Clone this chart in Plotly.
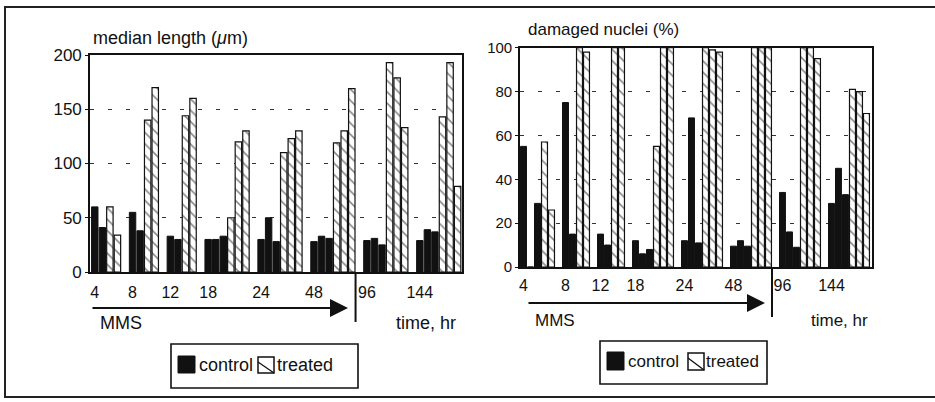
import plotly.graph_objects as go

W, H = 935, 402

times = ["4", "8", "12", "18", "24", "48", "96", "144"]
n_mms = 6  # first six time points are under MMS exposure

# median length (um): per time point, control bars then treated bars
len_control = [[60, 41], [55, 38], [33, 30], [30, 30, 33], [30, 50, 28], [28, 33, 31], [29, 31, 25], [29, 39, 37]]
len_treated = [[60, 34], [140, 170], [144, 160], [50, 120, 130], [110, 123, 130], [119, 130, 169], [193, 179, 133], [143, 193, 79]]

# damaged nuclei (%)
dmg_control = [[55, 0, 29], [75, 15], [15, 10], [12, 6, 8], [12, 68, 11], [9.5, 12, 9.5], [34, 16, 9], [29, 45, 33]]
dmg_treated = [[57, 26], [100, 98], [100, 100], [55, 100, 100], [100, 99, 98], [100, 100, 100], [100, 100, 95], [81, 80, 70]]


def slots(control, treated):
    cx, cy, tx, ty, starts = [], [], [], [], []
    pos = 0
    for c, t in zip(control, treated):
        starts.append(pos)
        for v in c:
            cx.append(pos); cy.append(v); pos += 1
        for v in t:
            tx.append(pos); ty.append(v); pos += 1
        pos += 1
    return cx, cy, tx, ty, starts


def px(x):
    return x / W


def py(y):
    return 1 - y / H


FONT = "Liberation Sans, Arial, sans-serif"
INK = "#111111"

fig = go.Figure()

panels = [
    dict(ctrl=len_control, trt=len_treated, xa="x", ya="y", dom_x=(90, 462), dom_y=(272, 55),
         xr_pad=(-0.63, 0.08), yr=[0, 200], dtick=50, ytf=17, tail=-0.5, base_y=272, line_end=322,
         arrow_y=308, title="median length (<i>μ</i>m)", title_xy=(91, 38), tsize=18,
         mms_xy=(98, 323), time_xy=(458, 323), lsize=18, ticklen=5,
         legend=dict(box=(171, 344, 358, 388), sq=(178, 356, 195, 373), ctext=197, ic=(258, 357, 274, 373), ttext=275, cy=365)),
    dict(ctrl=dmg_control, trt=dmg_treated, xa="x2", ya="y2", dom_x=(520, 872), dom_y=(267, 47.7),
         xr_pad=(-0.5, 0.29), yr=[0, 100], dtick=20, ytf=15, tail=0.5, base_y=267, line_end=317,
         arrow_y=303, title="damaged nuclei (%)", title_xy=(526, 30), tsize=17,
         mms_xy=(533, 320), time_xy=(870, 320), lsize=17, ticklen=3,
         legend=dict(box=(600, 341, 767, 384), sq=(607, 352, 624, 370), ctext=626, ic=(688, 353, 704, 370), ttext=704, cy=361)),
]

shapes = []
annotations = []

for i, p in enumerate(panels):
    cx, cy, tx, ty, starts = slots(p["ctrl"], p["trt"])
    fig.add_trace(go.Bar(x=cx, y=cy, name="control", xaxis=p["xa"], yaxis=p["ya"],
                         marker=dict(color=INK, line=dict(color=INK, width=1)), showlegend=False))
    fig.add_trace(go.Bar(x=tx, y=ty, name="treated", xaxis=p["xa"], yaxis=p["ya"],
                         marker=dict(color="white", line=dict(color=INK, width=1.2),
                                     pattern=dict(shape="\\", fgcolor=INK, bgcolor="white", size=8, solidity=0.2)),
                         showlegend=False))
    last = starts[-1] + len(p["ctrl"][-1]) + len(p["trt"][-1]) - 1
    xr = [p["xr_pad"][0], last + 0.5 + p["xr_pad"][1]]
    suffix = "" if i == 0 else "2"
    fig.update_layout(**{
        "xaxis" + suffix: dict(domain=[px(p["dom_x"][0]), px(p["dom_x"][1])], range=xr, automargin=False,
                               anchor=p["ya"], tickvals=starts, ticktext=times, showgrid=False,
                               zeroline=False, showline=True, mirror=True, linecolor=INK, linewidth=1.6,
                               ticks="outside", ticklen=p["ticklen"], tickcolor="rgba(0,0,0,0)",
                               tickfont=dict(size=16, color=INK, family=FONT)),
        "yaxis" + suffix: dict(domain=[py(p["dom_y"][0]), py(p["dom_y"][1])], range=p["yr"], dtick=p["dtick"],
                               anchor=p["xa"], automargin=False, showgrid=True, gridcolor="#333333", gridwidth=1.2,
                               griddash="4px,14px", zeroline=False, showline=True, mirror=True,
                               linecolor=INK, linewidth=1.6, ticks="outside", ticklen=3, tickcolor=INK,
                               tickfont=dict(size=p["ytf"], color=INK, family=FONT)),
    })
    divider = starts[n_mms] - 1.5
    # divider line below the axis
    shapes.append(dict(type="line", xref=p["xa"], yref="paper", x0=divider, x1=divider,
                       y0=py(p["base_y"]), y1=py(p["line_end"]), line=dict(color=INK, width=2)))
    # MMS arrow
    annotations.append(dict(x=divider - 1, y=py(p["arrow_y"]), xref=p["xa"], yref="paper",
                            ax=p["tail"], ay=0, axref=p["xa"], ayref="pixel", text="",
                            showarrow=True, arrowhead=2, arrowsize=1.8, arrowwidth=2, arrowcolor=INK))
    annotations.append(dict(x=px(p["title_xy"][0]), y=py(p["title_xy"][1]), xref="paper", yref="paper",
                            xanchor="left", yanchor="middle", showarrow=False, text=p["title"],
                            font=dict(size=p["tsize"], color=INK, family=FONT)))
    annotations.append(dict(x=px(p["mms_xy"][0]), y=py(p["mms_xy"][1]), xref="paper", yref="paper",
                            xanchor="left", yanchor="middle", showarrow=False, text="MMS",
                            font=dict(size=p["lsize"], color=INK, family=FONT)))
    annotations.append(dict(x=px(p["time_xy"][0]), y=py(p["time_xy"][1]), xref="paper", yref="paper",
                            xanchor="right", yanchor="middle", showarrow=False, text="time, hr",
                            font=dict(size=p["lsize"], color=INK, family=FONT)))
    lg = p["legend"]
    b = lg["box"]
    shapes.append(dict(type="rect", xref="paper", yref="paper", x0=px(b[0]), x1=px(b[2]),
                       y0=py(b[3]), y1=py(b[1]), line=dict(color=INK, width=1.6)))
    s = lg["sq"]
    shapes.append(dict(type="rect", xref="paper", yref="paper", x0=px(s[0]), x1=px(s[2]),
                       y0=py(s[3]), y1=py(s[1]), line=dict(color=INK, width=1), fillcolor=INK))
    c = lg["ic"]
    shapes.append(dict(type="rect", xref="paper", yref="paper", x0=px(c[0]), x1=px(c[2]),
                       y0=py(c[3]), y1=py(c[1]), line=dict(color=INK, width=1.5), fillcolor="white"))
    shapes.append(dict(type="line", xref="paper", yref="paper", x0=px(c[0]), x1=px(c[2]),
                       y0=py(c[1] + 5), y1=py(c[3]), line=dict(color=INK, width=1.3)))
    annotations.append(dict(x=px(lg["ctext"]), y=py(lg["cy"]), xref="paper", yref="paper",
                            xanchor="left", yanchor="middle", showarrow=False, text="control",
                            font=dict(size=p["lsize"], color=INK, family=FONT)))
    annotations.append(dict(x=px(lg["ttext"]), y=py(lg["cy"]), xref="paper", yref="paper",
                            xanchor="left", yanchor="middle", showarrow=False, text="treated",
                            font=dict(size=p["lsize"], color=INK, family=FONT)))

# outer frame
shapes.append(dict(type="rect", xref="paper", yref="paper", x0=px(5), x1=px(960),
                   y0=py(397), y1=py(7), line=dict(color="#222222", width=2), layer="below"))

fig.update_layout(
    width=W, height=H, margin=dict(l=0, r=0, t=0, b=0, pad=0, autoexpand=False),
    paper_bgcolor="white", plot_bgcolor="white",
    barmode="overlay", bargap=0.15,
    font=dict(family=FONT, color=INK),
    shapes=shapes, annotations=annotations, showlegend=False,
)

page_fix = (
    "document.documentElement.style.cssText='margin:0;padding:0;overflow:hidden;height:402px;';"
    "document.body.style.cssText='margin:0;padding:0;overflow:hidden;height:402px;';"
    "var gd=document.getElementById('{plot_id}');"
    "gd.style.position='fixed';gd.style.left='0px';gd.style.top='0px';"
)

fig.write_html("out.html", config={"displayModeBar": False}, post_script=page_fix)
